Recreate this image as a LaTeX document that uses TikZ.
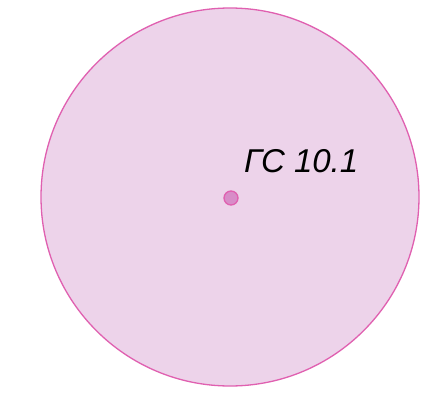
\documentclass[tikz,border=0pt]{standalone}
\usepackage{fontspec}
\setmainfont{Liberation Sans}
\begin{document}
\begin{tikzpicture}[x=1pt,y=-1pt,
  bigcirc/.style={draw=cpink,fill=cfill,line width=1.3pt},
  dotstyle/.style={draw=cpink,fill=cdot,line width=1.3pt},
  lbl/.style={font=\fontsize{33}{36}\selectfont\itshape,text=black,inner sep=0pt,anchor=base west}]
\definecolor{cpink}{HTML}{E060B0}
\definecolor{cfill}{HTML}{EDD3EA}
\definecolor{cdot}{HTML}{D88CC8}
\useasboundingbox (0,0) rectangle (429,394);
\fill[white] (0,0) rectangle (429,394);
\node[bigcirc,circle,minimum size=378pt,inner sep=0pt] (c) at (230,197) {};
\node[dotstyle,circle,minimum size=14pt,inner sep=0pt] (d) at (231,198) {};
\node[lbl] (t) at (244,172) {ГС 10.1};
\end{tikzpicture}
\end{document}
